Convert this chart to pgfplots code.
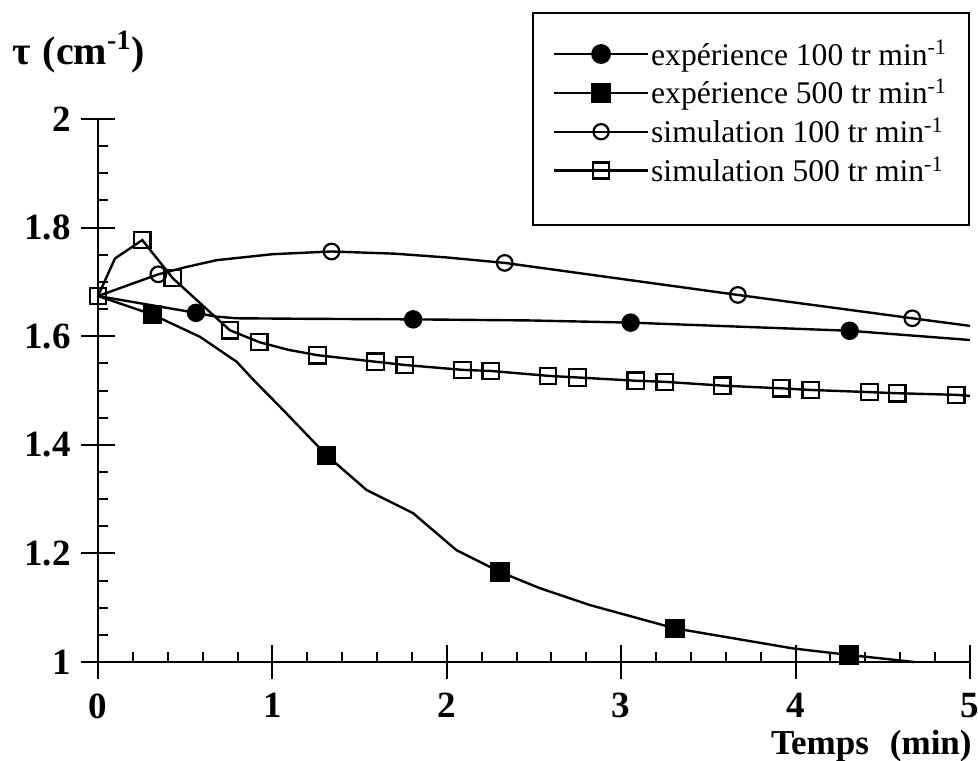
\documentclass[border=0pt]{standalone}
\usepackage{fontspec}
\setmainfont{Liberation Serif}
\usepackage{pgfplots}
\pgfplotsset{compat=1.18}

\begin{document}
\begin{tikzpicture}
\path[use as bounding box] (0pt,0pt) rectangle (489pt,380pt);
\begin{axis}[
  at={(49pt,49pt)}, anchor=south west,
  scale only axis, width=436pt, height=271.5pt,
  xmin=0, xmax=5, ymin=1, ymax=2,
  axis lines*=left,
  axis line style={-, line width=1.2pt},
  clip=false,
  xtick={0,1,2,3,4,5}, ytick={1,1.2,1.4,1.6,1.8,2},
  minor x tick num=4, minor y tick num=3,
  tick align=center,
  major tick length=17pt, minor tick length=5pt,
  tick style={line width=1pt, black},
  minor x tick style={yshift=2.5pt},
  minor y tick style={xshift=2.5pt},
  /pgf/number format/assume math mode=true,
  ticklabel style={font=\fontsize{18.5}{20}\selectfont\bfseries, inner sep=0pt},
  xticklabel style={anchor=north, yshift=-7pt},
  yticklabel style={anchor=east, xshift=-5pt},
  xlabel={Temps\hspace{0.6em}(min)},
  xlabel style={at={(axis description cs:1,0)}, anchor=base east, inner sep=0pt,
    yshift=-46pt, xshift=1pt, font=\fontsize{17.5}{20}\selectfont\bfseries},
  ylabel={τ\hspace{0.3em}(cm\textsuperscript{-1})},
  every axis y label/.style={at={(axis description cs:0,1)}, anchor=base west,
    inner sep=0pt, xshift=-43pt, yshift=27pt, font=\fontsize{20}{22}\selectfont\bfseries},
  legend cell align=left,
  legend image code/.code={\draw[#1, mark repeat=2, mark phase=2] plot coordinates {(0pt,0pt) (23.5pt,0pt) (47pt,0pt)};},
  legend style={at={(axis description cs:1,1)}, anchor=north east, yshift=53.5pt,
    draw=black, line width=1pt, font=\fontsize{15.8}{18}\selectfont,
    inner xsep=10pt, inner ysep=12.5pt, row sep=3.4pt, nodes={inner sep=1pt}},
]
\addlegendimage{black, line width=1.1pt, mark=*, mark size=4.4pt}
\addlegendentry{expérience 100 tr min\textsuperscript{-1}}
\addlegendimage{black, line width=1.1pt, mark=square*, mark size=4.5pt}
\addlegendentry{expérience 500 tr min\textsuperscript{-1}}
\addlegendimage{black, line width=1.1pt, mark=o, mark size=3.8pt}
\addlegendentry{simulation 100 tr min\textsuperscript{-1}}
\addlegendimage{black, line width=1.1pt, mark=square, mark size=4pt}
\addlegendentry{simulation 500 tr min\textsuperscript{-1}}
\addlegendimage{empty legend}
\addlegendentry{}

% experience 100 (line)
\addplot[black, line width=1.2pt, no marks, forget plot] coordinates {
 (0,1.674) (0.562,1.643) (0.68,1.636) (0.795,1.633) (1.2,1.632) (1.807,1.631)
 (2.476,1.629) (3.054,1.625) (4.31,1.610) (5.0,1.593)};
\addplot[black, only marks, mark=*, mark size=4.4pt, forget plot] coordinates {
 (0.562,1.643) (1.807,1.631) (3.054,1.625) (4.31,1.610)};

% experience 500
\addplot[black, line width=1.2pt, no marks, forget plot] coordinates {
 (0,1.674) (0.311,1.640) (0.584,1.599) (0.795,1.553) (0.89,1.52) (1.062,1.464)
 (1.310,1.381) (1.539,1.317) (1.807,1.274) (2.055,1.206) (2.304,1.166)
 (2.533,1.136) (2.819,1.105) (3.307,1.062) (3.985,1.025) (4.306,1.013) (4.68,1.0)};
\addplot[black, only marks, mark=square*, mark size=4.6pt, forget plot] coordinates {
 (0.311,1.640) (1.310,1.381) (2.304,1.166) (3.307,1.062) (4.306,1.013)};

% simulation 100
\addplot[black, line width=1.2pt, no marks, forget plot] coordinates {
 (0,1.674) (0.346,1.714) (0.5,1.727) (0.68,1.740) (1.0,1.751) (1.339,1.756)
 (1.7,1.752) (2.0,1.745) (2.332,1.735) (3.669,1.676) (4.669,1.633) (5.0,1.619)};
\addplot[black, only marks, mark=o, mark size=3.9pt, mark options={line width=1.1pt}, forget plot] coordinates {
 (0.346,1.714) (1.339,1.756) (2.332,1.735) (3.669,1.676) (4.669,1.633)};

% simulation 500
\addplot[black, line width=1.2pt, no marks, forget plot] coordinates {
 (0,1.674) (0.097,1.743) (0.254,1.777) (0.428,1.707) (0.756,1.611) (0.925,1.589)
 (1.09,1.575) (1.259,1.565) (1.591,1.553) (1.759,1.547) (2.09,1.538) (2.252,1.536)
 (2.581,1.527) (2.749,1.524) (3.083,1.518) (3.249,1.516) (3.580,1.509) (3.918,1.504)
 (4.086,1.501) (4.424,1.497) (4.583,1.495) (4.921,1.492) (5.0,1.490)};
\addplot[black, only marks, mark=square, mark size=4.1pt, mark options={line width=1.1pt}, forget plot] coordinates {
 (0,1.674) (0.254,1.777) (0.428,1.707) (0.756,1.611) (0.925,1.589) (1.259,1.565)
 (1.591,1.553) (1.759,1.547) (2.09,1.538) (2.252,1.536) (2.581,1.527) (2.749,1.524)
 (3.083,1.518) (3.249,1.516) (3.580,1.509) (3.918,1.504) (4.086,1.501) (4.424,1.497)
 (4.583,1.495) (4.921,1.492)};
\end{axis}
\end{tikzpicture}
\end{document}
